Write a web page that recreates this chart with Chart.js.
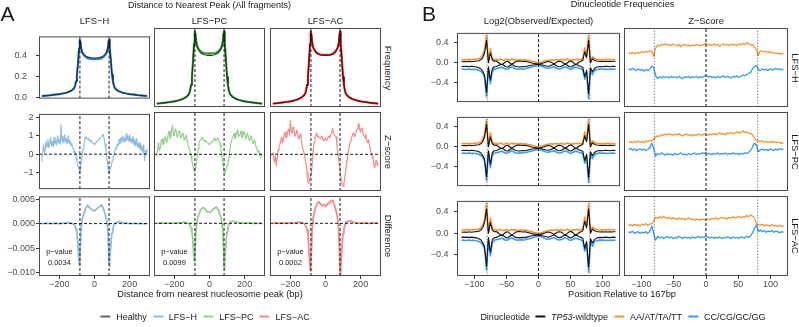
<!DOCTYPE html>
<html>
<head>
<meta charset="utf-8">
<title>Nucleosome distance and dinucleotide frequencies</title>
<script src="https://cdn.jsdelivr.net/npm/chart.js"></script>
<style>
  html, body { margin: 0; padding: 0; background: #fff; }
  body { position: relative; width: 799px; height: 327px; overflow: hidden;
         font-family: "Liberation Sans", Arial, sans-serif; color: #1a1a1a; }
  canvas { position: absolute; }
  .t { position: absolute; white-space: nowrap; line-height: 1; }
  .legend { position: absolute; display: flex; align-items: center; white-space: nowrap;
            font-size: 9px; line-height: 1; transform: translate(-50%, -50%); color: #1a1a1a; }
  .key { display: inline-block; width: 10px; height: 1.6px; margin-right: 6px; }
  .lab { margin-right: 6px; }
</style>
</head>
<body>
<script>
// ---------- panel A data ----------
var groupsA = ['LFS\u2212H', 'LFS\u2212PC', 'LFS\u2212AC'];
var rowLabelsA = ['Frequency', 'Z\u2212score', 'Difference'];
var pValues = ['0.0034', '0.0099', '0.0002'];
var peakLinesA = [-83, 83];

var xFreq = [-300,-275,-250,-225,-200,-180,-160,-150,-140,-130,-120,-115,-110,-105,-100,-96,-92,-88,-85,-83,
  -80,-76,-70,-60,-50,-40,-30,-20,-10,0,10,20,30,40,50,60,70,76,80,83,
  85,88,92,96,100,105,110,115,120,130,140,150,160,180,200,225,250,275,300];

var freqHealthy = [0.012,0.016,0.020,0.025,0.030,0.036,0.044,0.050,0.057,0.066,0.080,0.092,0.115,0.155,0.215,0.29,0.38,0.47,0.535,0.56,
  0.54,0.48,0.44,0.415,0.40,0.39,0.385,0.382,0.38,0.38,0.38,0.382,0.385,0.39,0.40,0.415,0.44,0.48,0.54,0.56,
  0.535,0.47,0.38,0.29,0.215,0.155,0.115,0.092,0.080,0.066,0.057,0.050,0.044,0.036,0.030,0.025,0.020,0.016,0.012];
var freqLfsH = [0.012,0.016,0.020,0.025,0.030,0.036,0.044,0.050,0.057,0.066,0.080,0.092,0.115,0.155,0.215,0.29,0.38,0.47,0.53,0.555,
  0.535,0.47,0.43,0.405,0.388,0.377,0.372,0.37,0.368,0.368,0.368,0.37,0.372,0.377,0.388,0.405,0.43,0.47,0.535,0.555,
  0.53,0.47,0.38,0.29,0.215,0.155,0.115,0.092,0.080,0.066,0.057,0.050,0.044,0.036,0.030,0.025,0.020,0.016,0.012];
var freqLfsPC = [0.012,0.016,0.020,0.025,0.030,0.036,0.044,0.050,0.057,0.066,0.080,0.092,0.115,0.155,0.215,0.29,0.38,0.47,0.535,0.56,
  0.545,0.49,0.45,0.425,0.41,0.402,0.398,0.396,0.395,0.395,0.395,0.396,0.398,0.402,0.41,0.425,0.45,0.49,0.545,0.56,
  0.535,0.47,0.38,0.29,0.215,0.155,0.115,0.092,0.080,0.066,0.057,0.050,0.044,0.036,0.030,0.025,0.020,0.016,0.012];
var freqLfsAC = [0.012,0.016,0.020,0.025,0.030,0.036,0.044,0.050,0.057,0.066,0.080,0.092,0.115,0.155,0.215,0.29,0.38,0.47,0.535,0.56,
  0.54,0.48,0.44,0.415,0.398,0.39,0.386,0.384,0.383,0.383,0.383,0.384,0.386,0.39,0.398,0.415,0.44,0.48,0.54,0.56,
  0.535,0.47,0.38,0.29,0.215,0.155,0.115,0.092,0.080,0.066,0.057,0.050,0.044,0.036,0.030,0.025,0.020,0.016,0.012];

var diffLfsH = [0,0.0001,0,0.0001,0,0.0001,0.0001,0.0002,0.0002,0.0001,-0.0001,-0.0003,-0.0006,-0.0011,-0.0020,-0.0034,-0.0058,-0.0080,-0.0084,-0.0070,
  -0.0040,-0.0012,0.0008,0.0022,0.0031,0.0037,0.0033,0.0030,0.0027,0.0026,0.0029,0.0032,0.0035,0.0038,0.0031,0.0020,0.0005,-0.0015,-0.0050,-0.0082,
  -0.0087,-0.0074,-0.0048,-0.0030,-0.0018,-0.0010,-0.0004,0,0.0002,0.0003,0.0004,0.0003,0.0002,0.0001,0,0.0001,0,0,0];
var diffLfsPC = [0,0.0001,0,0.0001,0,0.0001,0.0001,0.0002,0.0002,0.0001,0,-0.0002,-0.0005,-0.0010,-0.0018,-0.0030,-0.0052,-0.0072,-0.0078,-0.0068,
  -0.0040,-0.0012,0.0006,0.0019,0.0027,0.0032,0.0031,0.0026,0.0023,0.0022,0.0024,0.0028,0.0031,0.0033,0.0027,0.0017,0.0004,-0.0016,-0.0052,-0.0088,
  -0.0093,-0.0078,-0.0050,-0.0030,-0.0017,-0.0009,-0.0003,0.0001,0.0003,0.0004,0.0004,0.0003,0.0002,0.0001,0,0.0001,0,0,0];
var diffLfsAC = [0.0001,0,0.0001,0,0.0001,0.0001,0.0002,0.0002,0.0002,0.0001,-0.0001,-0.0004,-0.0008,-0.0014,-0.0025,-0.0042,-0.0070,-0.0092,-0.0097,-0.0085,
  -0.0050,-0.0015,0.0010,0.0028,0.0038,0.0044,0.0040,0.0036,0.0038,0.0034,0.0039,0.0041,0.0045,0.0047,0.0038,0.0026,0.0008,-0.0018,-0.0060,-0.0100,
  -0.0107,-0.0092,-0.0060,-0.0036,-0.0021,-0.0011,-0.0005,0,0.0003,0.0004,0.0005,0.0004,0.0002,0.0001,0,0.0001,0,0.0001,0];

var xZ = [-300,-295,-290,-285,-280,-275,-270,-265,-260,-255,-250,-245,-240,-235,-230,-225,-220,-215,-210,-205,
  -200,-195,-190,-185,-180,-175,-170,-165,-160,-155,-150,-145,-140,-135,-130,-125,-120,-115,-110,-105,
  -100,-95,-90,-85,-80,-75,-70,-65,-60,-55,-50,-45,-40,-35,-30,-25,-20,-15,-10,-5,0,
  5,10,15,20,25,30,35,40,45,50,55,60,65,70,75,80,85,90,95,100,
  105,110,115,120,125,130,135,140,145,150,155,160,165,170,175,180,185,190,195,200,
  205,210,215,220,225,230,235,240,245,250,255,260,265,270,275,280,285,290,295,300];
var zLfsH = [-0.4,0.1,0.5,0.1,0.3,0.7,0.4,0.8,0.35,0.6,
  0.9,0.45,0.7,0.4,0.9,0.55,0.75,0.5,1.0,0.6,
  0.8,0.55,1.6,0.7,0.95,0.6,1.05,0.7,0.85,0.55,
  1.0,0.6,0.75,0.45,0.6,0.35,0.3,0.05,0.15,-0.2,
  -0.35,-0.6,-0.75,-1.05,-0.85,-0.35,0.0,0.3,0.55,0.8,
  0.95,0.9,0.8,0.85,0.72,0.78,0.68,0.66,0.6,0.58,0.52,
  0.6,0.65,0.7,0.75,0.8,0.85,0.9,0.95,1.0,1.08,
  0.85,0.55,0.25,-0.15,-0.55,-0.95,-1.05,-0.75,-0.65,-0.4,
  -0.3,-0.05,0.1,0.35,0.3,0.55,0.45,0.8,0.55,0.9,
  0.65,1.0,0.7,0.9,0.65,1.1,0.75,0.95,0.7,1.05,
  0.65,0.85,0.6,0.95,0.5,0.8,0.45,0.85,0.4,0.6,
  0.3,0.65,0.2,0.45,0.1,0.5,-0.35,0.2,0.0,0.3];
var zLfsPC = [-0.1,0.3,0.6,0.2,0.3,0.7,0.8,0.5,0.55,0.85,
  0.9,0.6,0.75,1.05,1.2,0.8,0.9,1.3,1.5,0.95,
  1.0,1.3,1.25,0.9,0.95,1.2,1.2,0.85,0.85,1.1,
  1.05,0.75,0.8,1.0,0.9,0.6,0.4,0.3,0.1,-0.1,
  -0.35,-0.6,-0.8,-0.9,-0.75,-0.45,-0.1,0.3,0.6,0.7,
  0.75,0.85,0.9,0.75,0.7,0.72,0.65,0.62,0.6,0.55,0.5,
  0.55,0.6,0.65,0.7,0.8,0.85,0.7,0.75,0.85,0.8,
  0.7,0.55,0.3,0.0,-0.4,-0.75,-0.95,-0.95,-0.75,-0.55,
  -0.4,-0.2,0.15,0.5,0.7,0.85,0.95,1.1,0.8,0.9,
  1.15,1.25,0.9,1.0,1.05,1.2,0.85,0.95,1.2,1.1,
  0.8,0.85,1.1,1.0,0.75,0.7,0.95,0.9,0.6,0.55,
  0.75,0.6,0.35,0.3,0.1,0.2,0.0,-0.15,-0.05,0.05];
var zLfsAC = [0.1,-0.2,-0.4,-0.1,-0.6,-0.2,0.2,0.45,0.5,0.7,
  0.9,0.6,0.75,1.0,1.15,0.85,0.9,1.2,1.3,1.0,
  1.75,1.2,1.1,1.4,1.35,0.95,0.95,1.25,1.15,0.85,
  0.8,1.05,0.9,0.55,0.3,0.15,0.0,-0.3,-0.55,-0.95,
  -1.45,-1.5,-1.3,-1.1,-0.95,-0.4,0.2,0.6,0.85,1.0,
  1.1,0.9,0.95,0.85,0.8,0.9,0.95,0.75,0.7,0.8,0.85,
  0.7,0.75,0.9,0.95,0.85,1.0,1.1,1.35,1.15,1.0,
  0.95,0.9,0.5,0.1,-0.25,-0.6,-1.0,-1.35,-1.55,-1.65,
  -1.5,-1.2,-0.85,-0.5,-0.2,0.1,0.4,0.65,0.75,0.9,
  1.05,1.1,0.9,0.95,1.2,1.3,1.45,1.6,1.25,1.15,
  1.35,1.3,1.0,0.95,0.85,1.05,0.7,0.6,0.75,0.5,
  0.3,0.05,-0.1,-0.2,-0.55,-0.7,-0.4,-0.3,-0.6,-0.45];

// ---------- panel B data ----------
var rowLabelsB = ['LFS\u2212H', 'LFS\u2212PC', 'LFS\u2212AC'];
var colLabelsB = ['Log2(Observed/Expected)', 'Z\u2212Score'];
var peakLinesB = [-80, 80];

var xB = [-120,-117,-114,-111,-108,-105,-102,-99,-96,-93,-90,-87,-84,-81,-78,-75,-72,-69,-66,-63,
  -60,-57,-54,-51,-48,-45,-42,-39,-36,-33,-30,-27,-24,-21,-18,-15,-12,-9,-6,-3,0,
  3,6,9,12,15,18,21,24,27,30,33,36,39,42,45,48,51,54,57,60,
  63,66,69,72,75,78,81,84,87,90,93,96,99,102,105,108,111,114,117,120];

// log2(observed/expected), LFS samples
var obsAT = [0.065,0.06,0.065,0.06,0.07,0.06,0.065,0.07,0.075,0.08,
  0.1,0.15,0.26,0.55,0.02,0.28,0.1,0.06,0.07,0.05,
  0.075,0.06,0.045,0.07,0.065,0.05,0.075,0.06,0.065,0.05,
  0.06,0.065,0.055,0.06,0.05,0.045,0.035,0.025,0.015,0.005,-0.005,
  0.005,0.015,0.03,0.04,0.05,0.055,0.06,0.05,0.065,0.06,
  0.055,0.07,0.05,0.06,0.075,0.06,0.05,0.065,0.06,0.07,
  0.06,0.065,0.08,0.3,0.15,0.55,0.02,0.12,0.09,0.07,
  0.065,0.06,0.065,0.06,0.065,0.07,0.065,0.06,0.065,0.065];
var obsCG = [-0.13,-0.125,-0.135,-0.13,-0.125,-0.135,-0.13,-0.135,-0.14,-0.15,
  -0.17,-0.21,-0.3,-0.68,-0.12,-0.42,-0.18,-0.13,-0.12,-0.11,
  -0.1,-0.09,-0.11,-0.13,-0.125,-0.1,-0.085,-0.1,-0.12,-0.13,
  -0.125,-0.12,-0.125,-0.12,-0.11,-0.1,-0.09,-0.08,-0.07,-0.06,-0.05,
  -0.06,-0.075,-0.09,-0.105,-0.11,-0.1,-0.09,-0.08,-0.1,-0.12,
  -0.125,-0.115,-0.095,-0.08,-0.1,-0.125,-0.13,-0.11,-0.09,-0.095,
  -0.11,-0.12,-0.14,-0.33,-0.2,-0.72,-0.14,-0.24,-0.16,-0.14,
  -0.13,-0.125,-0.13,-0.125,-0.13,-0.135,-0.13,-0.125,-0.13,-0.13];
// TP53-wildtype reference
var wtAT = [0.025,0.02,0.025,0.02,0.03,0.02,0.025,0.03,0.035,0.04,
  0.06,0.1,0.2,0.45,0.0,0.2,0.06,0.03,0.035,0.01,
  -0.02,-0.04,-0.01,0.02,0.03,0.0,-0.03,-0.01,0.02,0.03,
  0.035,0.03,0.025,0.03,0.02,0.01,0.0,-0.01,-0.015,-0.02,-0.025,
  -0.02,-0.01,0.0,0.015,0.025,0.02,0.0,-0.02,0.0,0.025,
  0.03,0.02,-0.01,-0.03,0.0,0.03,0.035,0.01,-0.03,-0.02,
  0.01,0.03,0.05,0.22,0.1,0.45,0.0,0.08,0.05,0.035,
  0.03,0.025,0.03,0.025,0.03,0.025,0.03,0.025,0.03,0.03];
var wtCG = [-0.075,-0.07,-0.075,-0.07,-0.08,-0.07,-0.075,-0.08,-0.085,-0.1,
  -0.12,-0.17,-0.25,-0.6,-0.08,-0.35,-0.12,-0.08,-0.075,-0.06,
  -0.04,-0.03,-0.05,-0.08,-0.085,-0.06,-0.035,-0.05,-0.075,-0.08,
  -0.085,-0.08,-0.075,-0.08,-0.07,-0.06,-0.05,-0.045,-0.04,-0.035,-0.03,
  -0.035,-0.045,-0.055,-0.065,-0.07,-0.06,-0.045,-0.03,-0.05,-0.075,
  -0.08,-0.07,-0.045,-0.03,-0.05,-0.08,-0.085,-0.06,-0.035,-0.04,
  -0.06,-0.075,-0.09,-0.28,-0.15,-0.62,-0.1,-0.18,-0.12,-0.09,
  -0.08,-0.075,-0.08,-0.075,-0.07,-0.075,-0.08,-0.075,-0.07,-0.075];

// Z-scores per group
var zAT_H = [0.16,0.15,0.17,0.15,0.16,0.17,0.16,0.18,0.17,0.19,
  0.18,0.2,0.19,0.1,0.25,0.3,0.28,0.31,0.3,0.32,
  0.3,0.31,0.29,0.32,0.3,0.29,0.31,0.27,0.3,0.31,
  0.29,0.3,0.28,0.3,0.29,0.31,0.3,0.29,0.3,0.31,0.33,
  0.3,0.31,0.29,0.32,0.3,0.31,0.28,0.3,0.32,0.3,
  0.31,0.29,0.32,0.3,0.31,0.29,0.32,0.3,0.33,0.31,
  0.34,0.32,0.3,0.31,0.27,0.22,0.12,0.2,0.19,0.18,
  0.19,0.17,0.18,0.16,0.17,0.15,0.16,0.14,0.15,0.14];
var zCG_H = [-0.12,-0.14,-0.11,-0.13,-0.15,-0.12,-0.14,-0.13,-0.16,-0.13,
  -0.15,-0.12,-0.07,-0.1,-0.24,-0.29,-0.26,-0.28,-0.25,-0.27,
  -0.26,-0.28,-0.25,-0.27,-0.26,-0.28,-0.25,-0.27,-0.29,-0.26,
  -0.27,-0.25,-0.28,-0.26,-0.27,-0.25,-0.28,-0.26,-0.27,-0.25,-0.22,
  -0.26,-0.25,-0.27,-0.26,-0.28,-0.25,-0.27,-0.26,-0.24,-0.27,
  -0.25,-0.26,-0.28,-0.25,-0.26,-0.24,-0.27,-0.25,-0.23,-0.24,
  -0.22,-0.2,-0.18,-0.12,-0.08,-0.06,-0.13,-0.15,-0.12,-0.14,
  -0.13,-0.15,-0.12,-0.14,-0.13,-0.11,-0.13,-0.12,-0.14,-0.12];
var zAT_PC = [0.07,0.08,0.06,0.08,0.07,0.09,0.07,0.08,0.06,0.09,
  0.08,0.1,0.09,0.12,0.16,0.18,0.17,0.2,0.19,0.21,
  0.2,0.22,0.2,0.19,0.21,0.2,0.22,0.19,0.18,0.2,
  0.21,0.19,0.2,0.18,0.2,0.19,0.21,0.2,0.19,0.21,0.2,
  0.19,0.21,0.2,0.22,0.2,0.21,0.23,0.21,0.22,0.2,
  0.23,0.22,0.24,0.22,0.23,0.25,0.23,0.24,0.27,0.24,
  0.25,0.23,0.22,0.2,0.14,0.1,0.09,0.08,0.09,0.07,
  0.08,0.06,0.08,0.07,0.08,0.06,0.07,0.06,0.05,0.06];
var zCG_PC = [-0.06,-0.04,-0.07,-0.05,-0.08,-0.06,-0.05,-0.07,-0.05,-0.08,
  -0.06,-0.03,0.05,-0.04,-0.18,-0.13,-0.15,-0.12,-0.14,-0.16,
  -0.13,-0.15,-0.14,-0.16,-0.13,-0.15,-0.14,-0.12,-0.15,-0.14,
  -0.16,-0.13,-0.15,-0.14,-0.12,-0.15,-0.13,-0.14,-0.12,-0.13,-0.11,
  -0.14,-0.13,-0.15,-0.13,-0.14,-0.12,-0.15,-0.13,-0.14,-0.12,
  -0.15,-0.13,-0.14,-0.12,-0.14,-0.13,-0.15,-0.13,-0.14,-0.12,
  -0.13,-0.11,-0.08,-0.02,0.05,0.02,-0.1,-0.07,-0.05,-0.07,
  -0.06,-0.08,-0.05,-0.06,-0.08,-0.05,-0.07,-0.04,-0.06,-0.05];
var zAT_AC = [0.09,0.1,0.08,0.11,0.09,0.1,0.08,0.11,0.1,0.12,
  0.09,0.11,0.12,0.16,0.23,0.21,0.24,0.22,0.25,0.22,
  0.21,0.23,0.2,0.22,0.21,0.19,0.22,0.2,0.21,0.19,
  0.2,0.22,0.19,0.2,0.18,0.2,0.19,0.18,0.2,0.19,0.18,
  0.2,0.19,0.21,0.2,0.22,0.2,0.21,0.23,0.21,0.22,
  0.2,0.23,0.22,0.24,0.22,0.23,0.25,0.22,0.24,0.23,
  0.26,0.24,0.27,0.25,0.22,0.12,0.1,0.09,0.11,0.08,
  0.1,0.09,0.08,0.1,0.08,0.09,0.07,0.09,0.08,0.07];
var zCG_AC = [-0.02,-0.04,-0.01,-0.05,-0.03,-0.02,-0.05,-0.03,-0.04,-0.02,
  -0.05,-0.01,0.08,-0.05,-0.17,-0.1,-0.13,-0.11,-0.14,-0.12,
  -0.1,-0.13,-0.11,-0.14,-0.12,-0.13,-0.1,-0.12,-0.14,-0.11,
  -0.13,-0.12,-0.14,-0.11,-0.13,-0.12,-0.1,-0.13,-0.11,-0.12,-0.09,
  -0.12,-0.13,-0.11,-0.14,-0.12,-0.13,-0.11,-0.14,-0.12,-0.13,
  -0.11,-0.12,-0.14,-0.11,-0.13,-0.12,-0.14,-0.11,-0.12,-0.13,
  -0.1,-0.12,-0.09,-0.04,0.04,0.1,-0.02,0.01,-0.02,0.0,
  -0.03,-0.01,-0.02,0.0,-0.03,-0.01,-0.02,-0.04,-0.02,-0.03];

// ---------- drawing ----------
var FONT = '"Liberation Sans", Arial, sans-serif';
Chart.defaults.font.family = FONT;
Chart.defaults.animation = false;

var PAD = 6; // spare room above/below each plot box for tick labels

function pts(xs, ys) {
  return xs.map(function(x, i) { return {x: x, y: ys[i]}; });
}
function line(xs, ys, color, width, order) {
  return {data: pts(xs, ys), borderColor: color, borderWidth: width, pointRadius: 0,
          tension: 0, fill: false, order: order, borderJoinStyle: 'round'};
}
function refLine(a, b, color, width, dash) {
  return {data: [a, b], borderColor: color, borderWidth: width, borderDash: dash,
          pointRadius: 0, fill: false, order: 0};
}

var framePlugin = {
  id: 'frame',
  afterDatasetsDraw: function(c) {
    var a = c.chartArea, g = c.ctx;
    g.save();
    g.strokeStyle = '#4a4a4a';
    g.lineWidth = 1;
    g.strokeRect(a.left + 0.5, a.top + 0.5, a.right - a.left - 1, a.bottom - a.top - 1);
    g.restore();
  }
};

function axisOpts(kind, min, max, ax) {
  var o = {type: 'linear', min: min, max: max, display: !!ax,
    grid: {display: !!ax, drawOnChartArea: false, drawTicks: true, tickLength: 3, color: '#333', lineWidth: 1},
    border: {display: false}};
  if (ax) {
    o.afterBuildTicks = function(s) { s.ticks = ax.ticks.map(function(v) { return {value: v}; }); };
    o.afterFit = function(s) { if (kind === 'x') s.height = ax.size; else s.width = ax.size; };
    o.ticks = {color: '#4d4d4d', font: {size: 9}, padding: ax.pad, autoSkip: false, maxRotation: 0,
               callback: function(v, i) { return ax.labels[i]; }};
  }
  return o;
}

function panel(p) {
  var axW = p.yAxis ? p.yAxis.size : 0;
  var axH = p.xAxis ? p.xAxis.size : 0;
  var cv = document.createElement('canvas');
  cv.width = p.w + axW;
  cv.height = p.h + axH + 2 * PAD;
  cv.style.left = (p.left - axW) + 'px';
  cv.style.top = (p.top - PAD) + 'px';
  cv.style.width = cv.width + 'px';
  cv.style.height = cv.height + 'px';
  document.body.appendChild(cv);
  var notes = p.notes || [];
  var notePlugin = {
    id: 'notes',
    afterDatasetsDraw: function(c) {
      var g = c.ctx;
      g.save();
      g.font = '7.5px ' + FONT;
      g.fillStyle = '#1a1a1a';
      g.textAlign = 'center';
      g.textBaseline = 'middle';
      notes.forEach(function(n) {
        g.fillText(n.text, c.scales.x.getPixelForValue(n.x), c.scales.y.getPixelForValue(n.y));
      });
      g.restore();
    }
  };
  return new Chart(cv, {
    type: 'line',
    data: {datasets: p.datasets},
    options: {
      responsive: false, animation: false, events: [],
      layout: {padding: {top: PAD, bottom: PAD, left: 0, right: 0}, autoPadding: false},
      plugins: {legend: {display: false}, tooltip: {enabled: false}},
      scales: {
        x: axisOpts('x', p.xMin, p.xMax, p.xAxis),
        y: axisOpts('y', p.yMin, p.yMax, p.yAxis)
      }
    },
    plugins: [framePlugin, notePlugin]
  });
}

function text(str, cx, cy, size, extra) {
  var d = document.createElement('div');
  d.className = 't';
  d.innerHTML = str;
  d.style.left = cx + 'px';
  d.style.top = cy + 'px';
  d.style.fontSize = size + 'px';
  d.style.transform = 'translate(-50%,-50%)' + (extra && extra.rotate ? ' rotate(90deg)' : '');
  document.body.appendChild(d);
}

// layout
var rows = [{top: 28, h: 79}, {top: 112, h: 79}, {top: 196, h: 80}];
var colsA = [39, 154, 270], wA = 111;
var colsB = [{left: 457, w: 163}, {left: 624, w: 164}];

var darkA = ['#10304f', '#123d16', '#5a0c0c'];
var bandA = ['#3a7cbc', '#3f963f', '#dc3434'];
var lightA = ['#8fbde1', '#96cf8f', '#f28c8c'];
var ORANGE = '#fb8f2a', BLUE = '#3399ff';

var freqLfs = [freqLfsH, freqLfsPC, freqLfsAC];
var zLfs = [zLfsH, zLfsPC, zLfsAC];
var diffLfs = [diffLfsH, diffLfsPC, diffLfsAC];

var rangeA = [
  {yMin: -0.013, yMax: 0.588, ticks: [0, 0.2, 0.4], labels: ['0.0', '0.2', '0.4'], pad: 9},
  {yMin: -1.9, yMax: 2.19, ticks: [-1, 0, 1, 2], labels: ['\u22121', '0', '1', '2'], pad: 2.5},
  {yMin: -0.0107, yMax: 0.00555, ticks: [-0.01, -0.005, 0, 0.005],
   labels: ['\u22120.010', '\u22120.005', '0.000', '0.005'], pad: 1}
];
var xMinA = -316, xMaxA = 316;

for (var r = 0; r < 3; r++) {
  for (var c = 0; c < 3; c++) {
    var rg = rangeA[r];
    var ds = [];
    if (r === 0) {
      ds.push(line(xFreq, freqLfs[c], bandA[c], 2.2, 2));
      ds.push(line(xFreq, freqHealthy, darkA[c], 1.1, 1));
    } else if (r === 1) {
      ds.push(line(xZ, zLfs[c], lightA[c], 1.2, 1));
    } else {
      ds.push(line(xFreq, diffLfs[c], lightA[c], 1.8, 1));
    }
    peakLinesA.forEach(function(px) {
      ds.push(refLine({x: px, y: rg.yMin}, {x: px, y: rg.yMax}, '#000', 0.9, [3, 2]));
    });
    if (r > 0) ds.push(refLine({x: xMinA, y: 0}, {x: xMaxA, y: 0}, '#000', 0.9, [3, 2]));
    panel({
      left: colsA[c], top: rows[r].top, w: wA, h: rows[r].h,
      xMin: xMinA, xMax: xMaxA, yMin: rg.yMin, yMax: rg.yMax,
      datasets: ds,
      yAxis: c === 0 ? {size: 39, ticks: rg.ticks, labels: rg.labels, pad: rg.pad} : null,
      xAxis: r === 2 ? {size: 14, ticks: [-200, 0, 200], labels: ['\u2212200', '0', '200'], pad: 0} : null,
      notes: r === 2 ? [{text: 'p\u2212value', x: -200, y: -0.0058}, {text: pValues[c], x: -200, y: -0.0081}] : []
    });
  }
}

var zAT = [zAT_H, zAT_PC, zAT_AC];
var zCG = [zCG_H, zCG_PC, zCG_AC];
var yMinB = -0.79, yMaxB = 0.60, xMinB = -127, xMaxB = 127;

for (var rb = 0; rb < 3; rb++) {
  for (var cb = 0; cb < 2; cb++) {
    var dsb = [];
    if (cb === 0) {
      dsb.push(line(xB, obsAT, ORANGE, 1.5, 3));
      dsb.push(line(xB, obsCG, BLUE, 1.5, 3));
      dsb.push(line(xB, wtAT, '#111', 1.1, 2));
      dsb.push(line(xB, wtCG, '#111', 1.1, 2));
      dsb.push(refLine({x: 0, y: yMinB}, {x: 0, y: yMaxB}, '#111', 1, [3, 2]));
    } else {
      dsb.push(line(xB, zAT[rb], ORANGE, 1.3, 2));
      dsb.push(line(xB, zCG[rb], BLUE, 1.3, 2));
      dsb.push(refLine({x: 0, y: yMinB}, {x: 0, y: yMaxB}, '#777', 1.8, [3, 2]));
    }
    peakLinesB.forEach(function(px) {
      dsb.push(refLine({x: px, y: yMinB}, {x: px, y: yMaxB}, '#333', 0.6, [1.5, 1.5]));
    });
    panel({
      left: colsB[cb].left, top: rows[rb].top, w: colsB[cb].w, h: rows[rb].h,
      xMin: xMinB, xMax: xMaxB, yMin: yMinB, yMax: yMaxB,
      datasets: dsb,
      yAxis: cb === 0 ? {size: 37, ticks: [-0.4, 0, 0.4], labels: ['\u22120.4', '0.0', '0.4'], pad: 5.5} : null,
      xAxis: rb === 2 ? {size: 14, ticks: [-100, -50, 0, 50, 100],
                         labels: ['\u2212100', '\u221250', '0', '50', '100'], pad: 0} : null
    });
  }
}

// titles and strips
text('A', 7.5, 12.5, 21);
text('B', 429, 12.5, 21);
text('Distance to Nearest Peak (All fragments)', 209.5, 5, 9);
text('Dinucleotide Frequencies', 622.5, 5, 9.2);
groupsA.forEach(function(g, i) { text(g, colsA[i] + wA / 2, 20.5, 9.4); });
colLabelsB.forEach(function(g, i) { text(g, colsB[i].left + colsB[i].w / 2, 20.5, 9.4); });
rowLabelsA.forEach(function(g, i) { text(g, 388, rows[i].top + rows[i].h / 2, 9.4, {rotate: true}); });
rowLabelsB.forEach(function(g, i) { text(g, 795, rows[i].top + rows[i].h / 2, 9.4, {rotate: true}); });
text('Distance from nearest nucleosome peak (bp)', 210, 294.5, 9.3);
text('Position Relative to 167bp', 622, 294.5, 9.3);

// legends
function legend(cx, cy, title, items) {
  var box = document.createElement('div');
  box.className = 'legend';
  box.style.left = cx + 'px';
  box.style.top = cy + 'px';
  var html = title ? '<span class="lab" style="margin-right:5px">' + title + '</span>' : '';
  items.forEach(function(it) {
    html += '<span class="key" style="background:' + it.color + '"></span><span class="lab">' + it.label + '</span>';
  });
  box.innerHTML = html;
  document.body.appendChild(box);
}
legend(208, 316.7, null, [
  {label: 'Healthy', color: '#666'},
  {label: groupsA[0], color: lightA[0]},
  {label: groupsA[1], color: lightA[1]},
  {label: groupsA[2], color: lightA[2]}
]);
legend(626, 316.7, 'Dinucleotide', [
  {label: '<i>TP53</i>-wildtype', color: '#111'},
  {label: 'AA/AT/TA/TT', color: ORANGE},
  {label: 'CC/CG/GC/GG', color: BLUE}
]);
</script>
</body>
</html>
